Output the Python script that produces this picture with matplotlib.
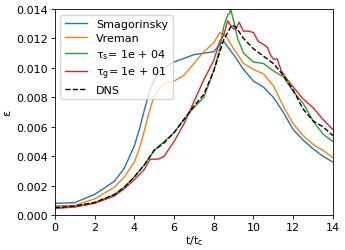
import numpy as np
import matplotlib
matplotlib.use("Agg")
import matplotlib.pyplot as plt

# values
t_smag = [0, 1, 2, 3, 3.5, 4, 4.25, 4.5, 4.75, 5, 5.25, 5.5, 6, 7, 7.5, 8, 8.3, 8.5, 9, 9.5, 10, 10.5, 11, 11.5,
          12, 12.5, 13, 13.5, 14]
eps_smag = [0.00080, 0.00085, 0.00140, 0.0023, 0.0032, 0.0047, 0.0058, 0.0071, 0.0083, 0.0092, 0.0097, 0.0100,
            0.0104, 0.0109, 0.0110, 0.0111, 0.0116, 0.0118, 0.0109, 0.0099, 0.0091, 0.0087, 0.0080, 0.0070,
            0.0058, 0.0051, 0.0045, 0.0040, 0.0036]

t_vrem = [0, 1, 2, 3, 3.5, 4, 4.25, 4.5, 4.75, 5, 5.25, 5.5, 6, 6.5, 7, 7.5, 8, 8.3, 8.6, 9, 9.5, 10, 10.5, 11,
          11.5, 12, 12.5, 13, 13.5, 14]
eps_vrem = [0.00063, 0.00066, 0.0011, 0.0019, 0.0026, 0.0036, 0.0045, 0.0057, 0.0070, 0.0081, 0.0086, 0.0089,
            0.0091, 0.0095, 0.0103, 0.0111, 0.0117, 0.0124, 0.0122, 0.0113, 0.0103, 0.0099, 0.0096, 0.0088,
            0.0074, 0.0062, 0.0054, 0.0048, 0.0044, 0.0039]

t_ts = [0, 1, 2, 3, 3.5, 4, 4.5, 5, 5.5, 6, 6.5, 7, 7.5, 8, 8.3, 8.5, 8.7, 8.8, 8.85, 9.0, 9.2, 9.5, 10, 10.5, 11, 11.5,
        12, 12.5, 13, 13.5, 14]
eps_ts = [0.00048, 0.00058, 0.00082, 0.0014, 0.0019, 0.0026, 0.0034, 0.0044, 0.0050, 0.0056, 0.0065, 0.0073, 0.0080,
          0.0098, 0.0113, 0.0128, 0.0136, 0.0137, 0.0140, 0.0132, 0.0120, 0.0110, 0.0104, 0.0103, 0.0098, 0.0094,
          0.0084, 0.0076, 0.0064, 0.0055, 0.0050]

t_tg = [0, 1, 2, 3, 3.5, 4, 4.5, 4.8, 5.2, 5.5, 6, 6.5, 7, 7.5, 8, 8.3, 8.5, 8.7, 8.95, 9.1, 9.28, 9.48, 9.73, 10,
        10.24, 10.5, 10.7, 10.85, 11, 11.2, 11.4, 11.7, 12, 12.5, 13, 13.5, 14]
eps_tg = [0.00045, 0.00055, 0.00080, 0.0013, 0.0018, 0.0024, 0.0031, 0.0038, 0.0038, 0.0040, 0.0050, 0.0062, 0.0077,
          0.0092, 0.0105, 0.0118, 0.0122, 0.0132, 0.0127, 0.0126, 0.0131, 0.0125, 0.0125, 0.0124, 0.0118,
          0.0116, 0.0114, 0.0109, 0.0106, 0.0106, 0.0098, 0.0092, 0.0087, 0.0079, 0.0073, 0.0065, 0.0058]

t_dns = [0, 1, 2, 3, 3.5, 4, 4.5, 5, 5.5, 6, 6.5, 7, 7.5, 8, 8.5, 8.9, 9.1, 9.5, 10, 10.5, 11, 11.5, 12, 12.5, 13,
         13.5, 14]
eps_dns = [0.00052, 0.00062, 0.00086, 0.0014, 0.0019, 0.0026, 0.0034, 0.0044, 0.0049, 0.0056, 0.0065, 0.0074, 0.0082,
           0.0098, 0.0119, 0.0129, 0.0128, 0.0120, 0.0113, 0.0108, 0.0103, 0.0095, 0.0085, 0.0072, 0.0064,
           0.0060, 0.0054]

plt.rcParams["font.size"] = 8
plt.rcParams["mathtext.default"] = "regular"

fig = plt.figure(figsize=(3.45, 2.51), dpi=100)
ax = fig.add_axes([0.159, 0.139, 0.806, 0.821])

ax.plot(t_smag, eps_smag, color="C0", lw=1, label="Smagorinsky")
ax.plot(t_vrem, eps_vrem, color="C1", lw=1, label="Vreman")
ax.plot(t_ts, eps_ts, color="C2", lw=1, label=r"$\tau_s$= 1e + 04")
ax.plot(t_tg, eps_tg, color="C3", lw=1, label=r"$\tau_g$= 1e + 01")
ax.plot(t_dns, eps_dns, color="k", lw=1, ls="--", label="DNS")

ax.set_xlim(0, 14)
ax.set_ylim(0, 0.014)
ax.set_xticks(np.arange(0, 15, 2))
ax.set_yticks(np.arange(0, 0.0141, 0.002))
ax.set_xlabel("t/t$_c$", labelpad=1)
ax.set_ylabel(r"$\epsilon$", labelpad=2)
ax.tick_params(length=3, width=0.6, pad=2)
for s in ax.spines.values():
    s.set_linewidth(0.6)

ax.legend(loc="upper left", fontsize=8, labelspacing=0.35, borderaxespad=0.5)

fig.savefig("out.png", dpi=100)
